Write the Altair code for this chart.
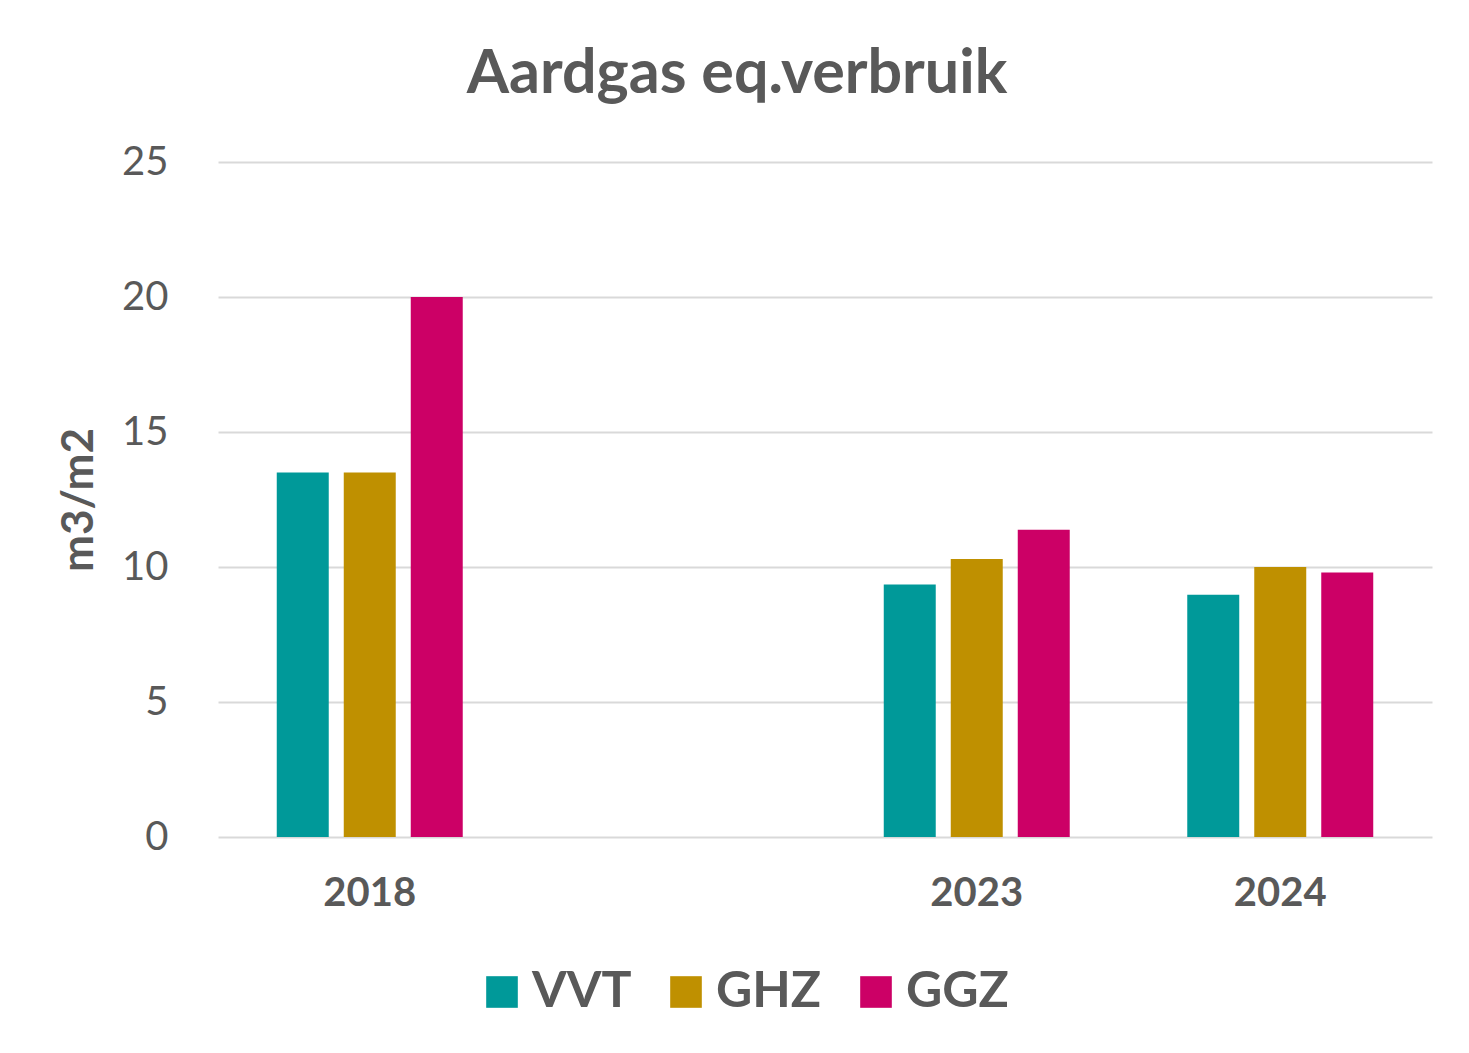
import altair as alt
import pandas as pd

years = ["2018", "2023", "2024"]
x_domain = ["2018", " ", "2023", "2024"]
series = ["VVT", "GHZ", "GGZ"]
colors = ["#009999", "#BF9000", "#CC0066"]
vvt = [13.5, 9.35, 8.97]
ghz = [13.5, 10.3, 10.0]
ggz = [20.0, 11.38, 9.8]

rows = []
for i, y in enumerate(years):
    for s, vals in zip(series, [vvt, ghz, ggz]):
        rows.append({"Jaar": y, "Sector": s, "Waarde": vals[i]})
df = pd.DataFrame(rows)

FONT = "Lato"
TXT = "#595959"

chart = alt.Chart(df).mark_bar().encode(
    x=alt.X("Jaar:N", scale=alt.Scale(domain=x_domain, paddingInner=0, paddingOuter=0),
            axis=alt.Axis(title=None, labelAngle=0, labelFontSize=40, labelFontWeight="bold",
                          labelColor=TXT, labelFont=FONT, labelPadding=36, ticks=False,
                          domain=False, grid=False)),
    xOffset=alt.XOffset("Sector:N", sort=series,
                        scale=alt.Scale(paddingInner=0.224, paddingOuter=0.877)),
    y=alt.Y("Waarde:Q", scale=alt.Scale(domain=[0, 25]),
            axis=alt.Axis(title="m3/m2", values=[0, 5, 10, 15, 20, 25], labelFontSize=40,
                          labelColor=TXT, labelFont=FONT, labelPadding=50, ticks=False,
                          domain=False, gridColor="#D9D9D9", gridWidth=2,
                          titleFontSize=44, titleFont=FONT, titleFontWeight="bold",
                          titleColor=TXT, titlePadding=20)),
    color=alt.Color("Sector:N", sort=series,
                    scale=alt.Scale(domain=series, range=colors),
                    legend=alt.Legend(title=None, orient="none", direction="horizontal",
                                      legendX=259, legendY=805, symbolType="square",
                                      symbolSize=1000, symbolStrokeWidth=0,
                                      labelFontSize=50, labelFont=FONT, labelFontWeight="bold",
                                      labelColor=TXT, labelOffset=5, columnPadding=29)),
).properties(
    width=1214,
    height=675,
    title=alt.TitleParams("Aardgas eq.verbruik", fontSize=61, font=FONT, fontWeight="bold",
                          color=TXT, anchor="middle", dx=-88, offset=36),
    autosize=alt.AutoSizeParams(type="none"),
    padding={"left": 210, "top": 154, "right": 29, "bottom": 200},
).configure(background="white").configure_view(stroke=None, strokeWidth=0)

chart.save("out.html", embed_options={"renderer": "svg", "actions": False})
